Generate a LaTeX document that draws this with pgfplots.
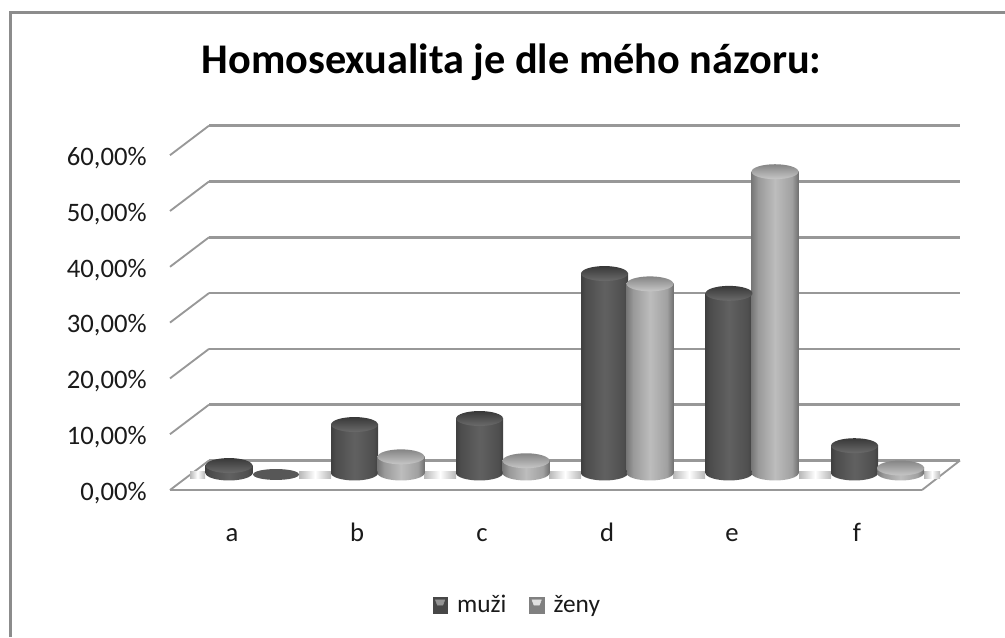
\documentclass[border=0pt]{standalone}
\usepackage{fontspec}
\setmainfont{Carlito}
\usepackage{pgfplots}
\usepackage{pgfplotstable}
\pgfplotsset{compat=1.18}
\definecolor{gridgray}{HTML}{989898}
\definecolor{framegray}{HTML}{8C8C8C}
\definecolor{txt}{HTML}{1A1A1A}
\pgfdeclarehorizontalshading{cyld}{100bp}{rgb(0bp)=(.25,.25,.25);rgb(25bp)=(.25,.25,.25);rgb(30bp)=(.30,.30,.30);rgb(50bp)=(.38,.38,.38);rgb(70bp)=(.31,.31,.31);rgb(75bp)=(.25,.25,.25);rgb(100bp)=(.25,.25,.25)}
\pgfdeclarehorizontalshading{cyll}{100bp}{rgb(0bp)=(.47,.47,.47);rgb(25bp)=(.47,.47,.47);rgb(32bp)=(.60,.60,.60);rgb(50bp)=(.74,.74,.74);rgb(68bp)=(.63,.63,.63);rgb(75bp)=(.44,.44,.44);rgb(100bp)=(.44,.44,.44)}
\pgfdeclareverticalshading{capds}{100bp}{rgb(0bp)=(.42,.42,.42);rgb(25bp)=(.42,.42,.42);rgb(75bp)=(.22,.22,.22);rgb(100bp)=(.22,.22,.22)}
\pgfdeclareverticalshading{capls}{100bp}{rgb(0bp)=(.78,.78,.78);rgb(25bp)=(.78,.78,.78);rgb(75bp)=(.52,.52,.52);rgb(100bp)=(.52,.52,.52)}
\pgfdeclarehorizontalshading{bandsh}{100bp}{rgb(0bp)=(.72,.72,.72);rgb(25bp)=(.72,.72,.72);rgb(50bp)=(1,1,1);rgb(75bp)=(.72,.72,.72);rgb(100bp)=(.72,.72,.72)}
\pgfdeclareplotmark{capd}{\pgfpathellipse{\pgfpointorigin}{\pgfqpoint{17.6pt}{0pt}}{\pgfqpoint{0pt}{5.6pt}}\pgfshadepath{capds}{0}\pgfusepath{discard}}
\pgfdeclareplotmark{capl}{\pgfpathellipse{\pgfpointorigin}{\pgfqpoint{17.6pt}{0pt}}{\pgfqpoint{0pt}{5.6pt}}\pgfshadepath{capls}{0}\pgfusepath{discard}}
\pgfdeclareplotmark{capz}{\pgfpathellipse{\pgfqpoint{0pt}{-1.1pt}}{\pgfqpoint{17.4pt}{0pt}}{\pgfqpoint{0pt}{4.1pt}}\pgfsetfillcolor{black!66}\pgfusepath{fill}}
\pgfdeclareplotmark{based}{\pgfpathellipse{\pgfpointorigin}{\pgfqpoint{17.6pt}{0pt}}{\pgfqpoint{0pt}{5.6pt}}\pgfshadepath{cyld}{0}\pgfusepath{discard}}
\pgfdeclareplotmark{basel}{\pgfpathellipse{\pgfpointorigin}{\pgfqpoint{17.6pt}{0pt}}{\pgfqpoint{0pt}{5.6pt}}\pgfshadepath{cyll}{0}\pgfusepath{discard}}
\pgfplotsset{page/.style={width=753.75pt,height=477.75pt,scale only axis,xmin=0,xmax=1005,clip=false},
  barm/.style={forget plot,ybar,bar width=35.25pt,bar shift=0pt,draw=none,shade,shading=cyld},
  barz/.style={forget plot,ybar,bar width=35.25pt,bar shift=0pt,draw=none,shade,shading=cyll},
  band/.style={forget plot,draw=none,shade,shading=bandsh}}
\begin{document}
\begin{tikzpicture}
\useasboundingbox (0,0) rectangle (753.75pt,477.75pt);
\draw[framegray,line width=2.2pt] (7.9pt,0) -- (7.9pt,468.4pt) -- (753.75pt,468.4pt);
\begin{axis}[page,
  ymin=-26.344,ymax=87.814,
  axis line style={draw=none},
  major tick length=0pt,
  tick align=inside,
  xtick={232,357,482,607,732,857},
  xticklabels={a,b,c,d,e,f},
  ytick={0,10,20,30,40,50,60},
  yticklabels={{0,00\%},{10,00\%},{20,00\%},{30,00\%},{40,00\%},{50,00\%},{60,00\%}},
  tick label style={font=\fontsize{20}{22}\selectfont,text=txt},
  x tick label style={anchor=base,yshift=72pt},
  y tick label style={anchor=east,inner sep=0pt,xshift=110.25pt,yshift=-2.2pt},
  title={Homosexualita je dle mého názoru:},
  title style={at={(0.509,0.89)},anchor=center,font=\bfseries\fontsize{31.7}{34}\selectfont,text=black},
]
\addplot[gridgray,line width=2pt] coordinates {(209,5.29)(960,5.29)};
\addplot[gridgray,line width=2pt] coordinates {(922,0)(170,0)};
\addplot[gridgray,line width=1.4pt] coordinates {(922,0)(960,5.29)};
\addplot[gridgray,line width=1.4pt] coordinates {(170,0)(209,5.29)};
\addplot[gridgray,line width=1.4pt] coordinates {(170,10)(209,15.29)};
\addplot[gridgray,line width=2pt] coordinates {(209,15.29)(960,15.29)};
\addplot[gridgray,line width=1.4pt] coordinates {(170,20)(209,25.29)};
\addplot[gridgray,line width=2pt] coordinates {(209,25.29)(960,25.29)};
\addplot[gridgray,line width=1.4pt] coordinates {(170,30)(209,35.29)};
\addplot[gridgray,line width=2pt] coordinates {(209,35.29)(960,35.29)};
\addplot[gridgray,line width=1.4pt] coordinates {(170,40)(209,45.29)};
\addplot[gridgray,line width=2pt] coordinates {(209,45.29)(960,45.29)};
\addplot[gridgray,line width=1.4pt] coordinates {(170,50)(209,55.29)};
\addplot[gridgray,line width=2pt] coordinates {(209,55.29)(960,55.29)};
\addplot[gridgray,line width=1.4pt] coordinates {(170,60)(209,65.29)};
\addplot[gridgray,line width=2pt] coordinates {(209,65.29)(960,65.29)};
\end{axis}
\begin{axis}[page,
  ymin=-29.39,ymax=84.77,
  hide axis,
  legend columns=2,
  legend cell align=left,
  legend style={at={(0.515,0.05)},anchor=center,draw=none,fill=none,
    font=\fontsize{19}{21}\selectfont,text=txt,
    /tikz/every even column/.append style={column sep=15pt},
    /tikz/every odd column/.append style={column sep=5pt}},
]
\addplot[band] coordinates {(190,-0.9)(205,-0.9)(205,0.2)(190,0.2)} -- cycle;
\addplot[band] coordinates {(299,-0.9)(331,-0.9)(331,0.2)(299,0.2)} -- cycle;
\addplot[band] coordinates {(424,-0.9)(456,-0.9)(456,0.2)(424,0.2)} -- cycle;
\addplot[band] coordinates {(549,-0.9)(581,-0.9)(581,0.2)(549,0.2)} -- cycle;
\addplot[band] coordinates {(673,-0.9)(705,-0.9)(705,0.2)(673,0.2)} -- cycle;
\addplot[band] coordinates {(799,-0.9)(831,-0.9)(831,0.2)(799,0.2)} -- cycle;
\addplot[band] coordinates {(924,-0.9)(940,-0.9)(940,0.2)(924,0.2)} -- cycle;
% muzi
\addplot[forget plot,only marks,mark=based] coordinates {(229,0)(354.5,0)(479.5,0)(604.5,0)(729,0)(854.5,0)};
\addplot[barm] coordinates {(229,1.34)};
\addplot[barm] coordinates {(354.5,8.69)};
\addplot[barm] coordinates {(479.5,9.77)};
\addplot[barm] coordinates {(604.5,35.75)};
\addplot[barm] coordinates {(729,32.2)};
\addplot[barm] coordinates {(854.5,4.9)};
\addplot[forget plot,only marks,mark=capd] coordinates {(229,1.34)(354.5,8.69)(479.5,9.77)(604.5,35.75)(729,32.2)(854.5,4.9)};
% zeny
\addplot[forget plot,only marks,mark=capz] coordinates {(276,0)};
\addplot[forget plot,only marks,mark=basel] coordinates {(401,0)(526,0)(650,0)(775,0)(900.5,0)};
\addplot[barz] coordinates {(401,2.9)};
\addplot[barz] coordinates {(526,2.2)};
\addplot[barz] coordinates {(650,33.9)};
\addplot[barz] coordinates {(775,54)};
\addplot[barz] coordinates {(900.5,0.9)};
\addplot[forget plot,only marks,mark=capl] coordinates {(401,2.9)(526,2.2)(650,33.9)(775,54)(900.5,0.9)};
\addlegendimage{legend image code/.code={
  \fill[black!72] (0pt,-6pt) rectangle (11pt,6pt);
  \fill[black!42] (2pt,4pt) -- (9pt,4pt) -- (7.5pt,0pt) -- (3.5pt,0pt) -- cycle;}}
\addlegendentry{muži}
\addlegendimage{legend image code/.code={
  \fill[black!50] (0pt,-6pt) rectangle (11pt,6pt);
  \fill[black!12] (2pt,4pt) -- (9pt,4pt) -- (7.5pt,0pt) -- (3.5pt,0pt) -- cycle;}}
\addlegendentry{ženy}
\end{axis}
\end{tikzpicture}
\end{document}
